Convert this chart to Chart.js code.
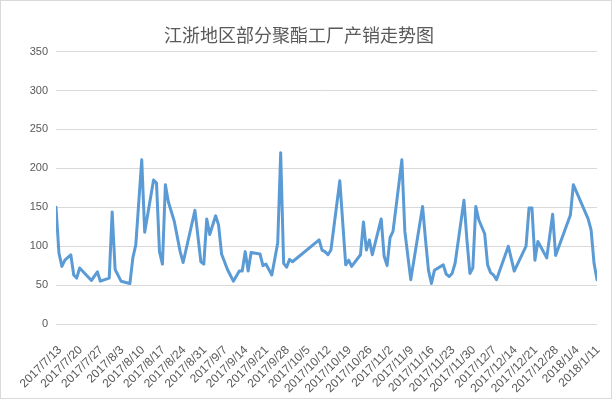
<!DOCTYPE html>
<html>
<head>
<meta charset="utf-8">
<script src="https://cdn.jsdelivr.net/npm/chart.js@4.4.1/dist/chart.umd.min.js"></script>
<style>
body{margin:0;background:#fff;}
#box{width:610px;height:397px;border:1px solid #d9d9d9;}
</style>
</head>
<body>
<div id="box"><canvas id="c" width="610" height="397"></canvas></div>
<script>
var title = '江浙地区部分聚酯工厂产销走势图';
var dates = ['2017/7/13','2017/7/14','2017/7/15','2017/7/16','2017/7/18','2017/7/19','2017/7/20','2017/7/21','2017/7/25','2017/7/27',
	'2017/7/28','2017/7/31','2017/8/1','2017/8/2','2017/8/4','2017/8/7','2017/8/8','2017/8/9','2017/8/11','2017/8/12',
	'2017/8/15','2017/8/16','2017/8/17','2017/8/18','2017/8/19','2017/8/20','2017/8/22','2017/8/24','2017/8/25','2017/8/29',
	'2017/8/31','2017/9/1','2017/9/2','2017/9/3','2017/9/5','2017/9/6','2017/9/7','2017/9/8','2017/9/9','2017/9/11',
	'2017/9/13','2017/9/14','2017/9/15','2017/9/16','2017/9/17','2017/9/20','2017/9/21','2017/9/22','2017/9/24','2017/9/26',
	'2017/9/27','2017/9/28','2017/9/29','2017/9/30','2017/10/1','2017/10/10','2017/10/11','2017/10/12','2017/10/13','2017/10/14',
	'2017/10/17','2017/10/19','2017/10/20','2017/10/21','2017/10/24','2017/10/25','2017/10/26','2017/10/27','2017/10/28','2017/10/31',
	'2017/11/1','2017/11/2','2017/11/3','2017/11/4','2017/11/7','2017/11/8','2017/11/10','2017/11/14','2017/11/15','2017/11/16',
	'2017/11/17','2017/11/18','2017/11/21','2017/11/22','2017/11/23','2017/11/24','2017/11/25','2017/11/28','2017/11/29','2017/11/30',
	'2017/12/1','2017/12/2','2017/12/3','2017/12/5','2017/12/6','2017/12/7','2017/12/8','2017/12/9','2017/12/13','2017/12/15',
	'2017/12/19','2017/12/20','2017/12/21','2017/12/22','2017/12/23','2017/12/26','2017/12/28','2017/12/29','2018/1/3','2018/1/4',
	'2018/1/9','2018/1/10','2018/1/11','2018/1/12'];
var values = [150,91,74,82,89,63,59,72,56,67,
	55,59,144,70,55,52,85,102,211,118,
	185,181,93,77,179,157,132,93,79,146,
	80,77,135,115,139,127,90,80,70,55,
	68,68,93,68,92,90,75,77,63,104,
	220,78,73,83,80,108,95,93,89,95,
	184,76,82,74,89,131,95,108,89,135,
	87,75,111,119,211,119,57,151,108,69,
	52,69,76,64,61,65,78,159,108,65,
	72,151,134,116,76,66,63,57,100,68,
	100,149,149,82,106,85,141,88,140,179,
	135,121,78,57];
var tickLabels = ['2017/7/13','2017/7/20','2017/7/27','2017/8/3','2017/8/10','2017/8/17','2017/8/24','2017/8/31','2017/9/7',
	'2017/9/14','2017/9/21','2017/9/28','2017/10/5','2017/10/12','2017/10/19','2017/10/26','2017/11/2','2017/11/9',
	'2017/11/16','2017/11/23','2017/11/30','2017/12/7','2017/12/14','2017/12/21','2017/12/28','2018/1/4','2018/1/11'];
var yTicks = [0,50,100,150,200,250,300,350];

function dayNum(s){
	var p=s.split('/');
	return Date.UTC(+p[0],+p[1]-1,+p[2])/86400000;
}
var day0=dayNum(dates[0]);
var pts=dates.map(function(d,i){return {x:dayNum(d)-day0,y:values[i]};});
var tickDays=tickLabels.map(function(d){return dayNum(d)-day0;});
var lastDay=dayNum(dates[dates.length-1])-day0;

var txt='#595959', grid='#d9d9d9';
new Chart(document.getElementById('c'),{
	type:'line',
	data:{datasets:[{data:pts,borderColor:'#5b9bd5',borderWidth:3,pointRadius:0,tension:0,
		borderCapStyle:'round',borderJoinStyle:'round',fill:false}]},
	options:{
		responsive:false,animation:false,
		layout:{padding:{right:14}},
		plugins:{
			legend:{display:false},tooltip:{enabled:false},
			title:{display:true,text:title,color:txt,
				font:{family:'"Noto Sans CJK SC"',size:18,weight:'normal'},
				padding:{top:23,bottom:6}}
		},
		scales:{
			x:{type:'linear',min:0,max:lastDay,
				grid:{display:false},border:{display:false},
				afterBuildTicks:function(a){a.ticks=tickDays.map(function(v){return {value:v};});},
				afterFit:function(a){a.height=74;a.paddingRight=0;a.paddingLeft=0;},
				ticks:{autoSkip:false,maxRotation:45,minRotation:45,color:txt,padding:11,labelOffset:4,
					font:{family:'"Liberation Sans"',size:12},
					callback:function(v){var i=tickDays.indexOf(v);return i<0?'':tickLabels[i];}}
			},
			y:{min:0,max:350,
				grid:{color:grid,drawTicks:false},border:{display:false},
				afterBuildTicks:function(a){a.ticks=yTicks.map(function(v){return {value:v};});},
				afterFit:function(a){a.width=55;},
				ticks:{color:txt,padding:8,font:{family:'"Liberation Sans"',size:11}}
			}
		}
	}
});
</script>
</body>
</html>
